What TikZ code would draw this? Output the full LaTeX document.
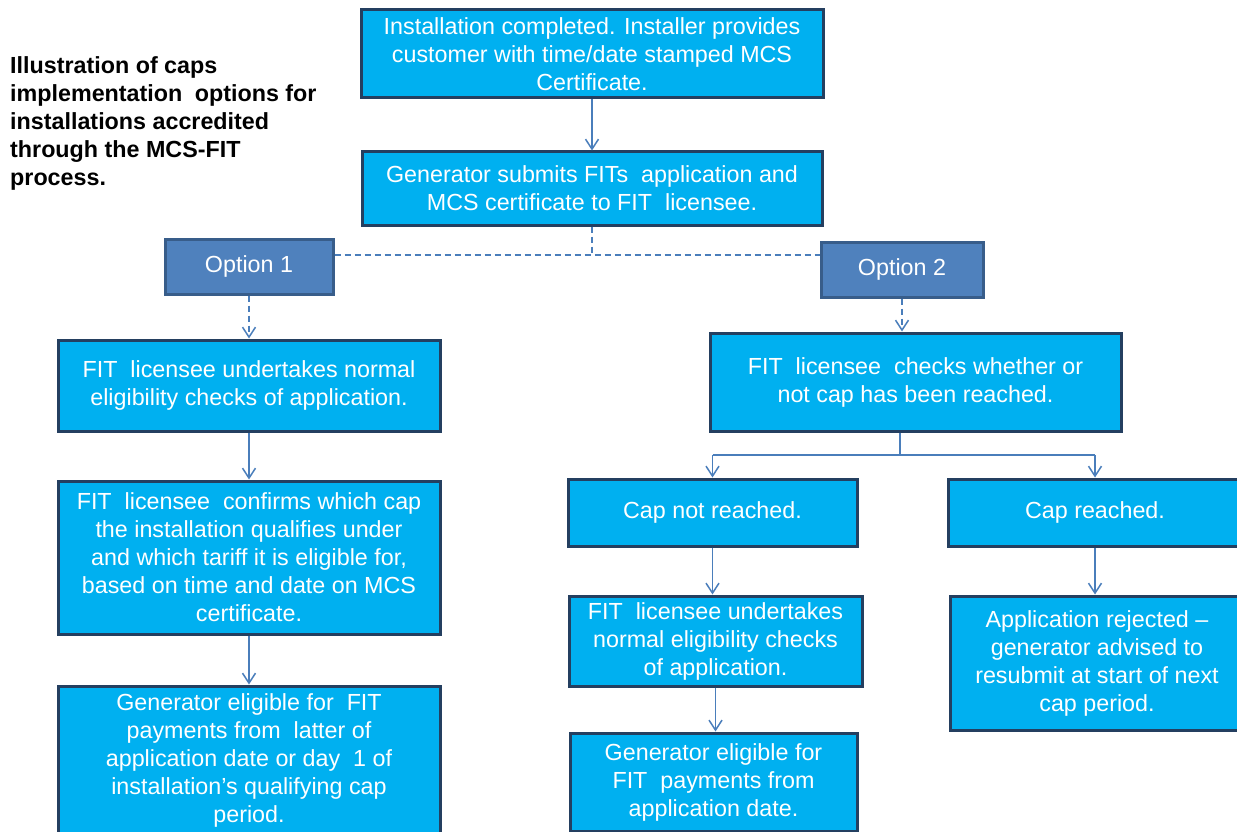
\documentclass[tikz,border=0pt]{standalone}
\usepackage{fontspec}
\setmainfont{Liberation Sans}
\usetikzlibrary{arrows.meta,calc}
\definecolor{boxfill}{HTML}{00B0F0}
\definecolor{boxline}{HTML}{243F60}
\definecolor{optfill}{HTML}{4F81BD}
\definecolor{optline}{HTML}{385D8A}
\definecolor{connc}{HTML}{4A7EBB}
\newcommand\twosp{\ \ }
\begin{document}
\begin{tikzpicture}[x=1pt,y=-1pt,
  stepbox/.style={draw=boxline, fill=boxfill, line width=3pt, text=white, align=center,
    inner sep=0pt, font=\fontsize{23.3}{28}\selectfont},
  optbox/.style={draw=optline, fill=optfill, line width=3pt, text=white, align=center,
    inner sep=0pt, font=\fontsize{23.3}{28}\selectfont},
  conn/.style={draw=connc, line width=1.5pt},
  arr/.style={conn, -{Straight Barb[length=10pt,width=13pt]}},
  dashconn/.style={conn, dash pattern=on 6pt off 4pt},
  dasharr/.style={dashconn, -{Straight Barb[length=10pt,width=13pt]}},
  titletext/.style={align=left, inner sep=0pt, anchor=north west,
    font=\fontsize{23.3}{28}\selectfont\bfseries}
]
\useasboundingbox[fill=white] (0,0) rectangle (1237,832);

\node[titletext] (title) at (10,56) {Illustration of caps\\implementation\hspace{6pt} options for\\installations accredited\\through the MCS-FIT\\process.};

\node[stepbox, minimum width=462pt, minimum height=88pt] (top) at (592,54)
  {Installation completed. Installer provides\\customer with time/date stamped MCS\\Certificate.};
\node[stepbox, minimum width=460pt, minimum height=73pt] (gen) at (592,188.5)
  {Generator submits FITs\twosp application and\\MCS certificate to FIT\twosp licensee.};
\node[optbox, minimum width=168pt, minimum height=55pt] (opt1) at (249,266.5) {\raisebox{-2pt}{Option 1}};
\node[optbox, minimum width=162pt, minimum height=55pt] (opt2) at (902,269.5) {\raisebox{-2pt}{Option 2}};

\node[stepbox, minimum width=382pt, minimum height=91pt] (l1) at (249,385.5)
  {FIT\twosp licensee undertakes normal\\eligibility checks of application.};
\node[stepbox, minimum width=382pt, minimum height=153pt] (l2) at (249,557.5)
  {FIT\twosp licensee\twosp confirms which cap\\the installation qualifies under\\and which tariff it is eligible for,\\based on time and date on MCS\\certificate.};
\node[stepbox, minimum width=382pt, minimum height=148pt] (l3) at (249,760)
  {Generator eligible for\twosp FIT\\payments from\twosp latter of\\application date or day\twosp 1 of\\installation’s qualifying cap\\period.};

\node[stepbox, minimum width=411pt, minimum height=98pt] (r1) at (915.5,382)
  {FIT\twosp licensee\twosp checks whether or\\not cap has been reached.};
\node[stepbox, minimum width=289pt, minimum height=67pt] (cnr) at (712.5,512.5) {\raisebox{-2pt}{Cap not reached.}};
\node[stepbox, minimum width=294pt, minimum height=67pt] (cr) at (1095,512.5) {\raisebox{-2pt}{Cap reached.}};
\node[stepbox, minimum width=293pt, minimum height=90pt] (ru) at (715.5,641)
  {FIT\twosp licensee undertakes\\normal eligibility checks\\of application.};
\node[stepbox, minimum width=294pt, minimum height=134pt] (rej) at (1097,663)
  {Application rejected –\\generator advised to\\resubmit at start of next\\cap period.};
\node[stepbox, minimum width=287pt, minimum height=98pt] (rg) at (713.5,782)
  {Generator eligible for\\FIT\twosp payments from\\application date.};

% connectors
\draw[arr] (top.south) -- (gen.north);
\coordinate (j1) at (592,255);
\draw[dashconn] (gen.south) -- (j1);
\draw[dashconn] (opt1.east |- j1) -- (j1 -| opt2.west);
\draw[dasharr] (opt1.south) -- (l1.north);
\draw[dasharr] (opt2.south) -- (opt2.south |- r1.north);
\draw[arr] (l1.south) -- (l2.north);
\draw[arr] (l2.south) -- (l3.north);

\coordinate (s) at (900,455);
\draw[conn] (s |- r1.south) -- (s);
\draw[conn] (cnr.north |- s) -- (cr.north |- s);
\draw[arr] (cnr.north |- s) -- (cnr.north);
\draw[arr] (cr.north |- s) -- (cr.north);
\draw[arr] (cnr.south) -- (cnr.south |- ru.north);
\draw[arr] (ru.south) -- (ru.south |- rg.north);
\draw[arr] (cr.south) -- (cr.south |- rej.north);
\end{tikzpicture}
\end{document}
